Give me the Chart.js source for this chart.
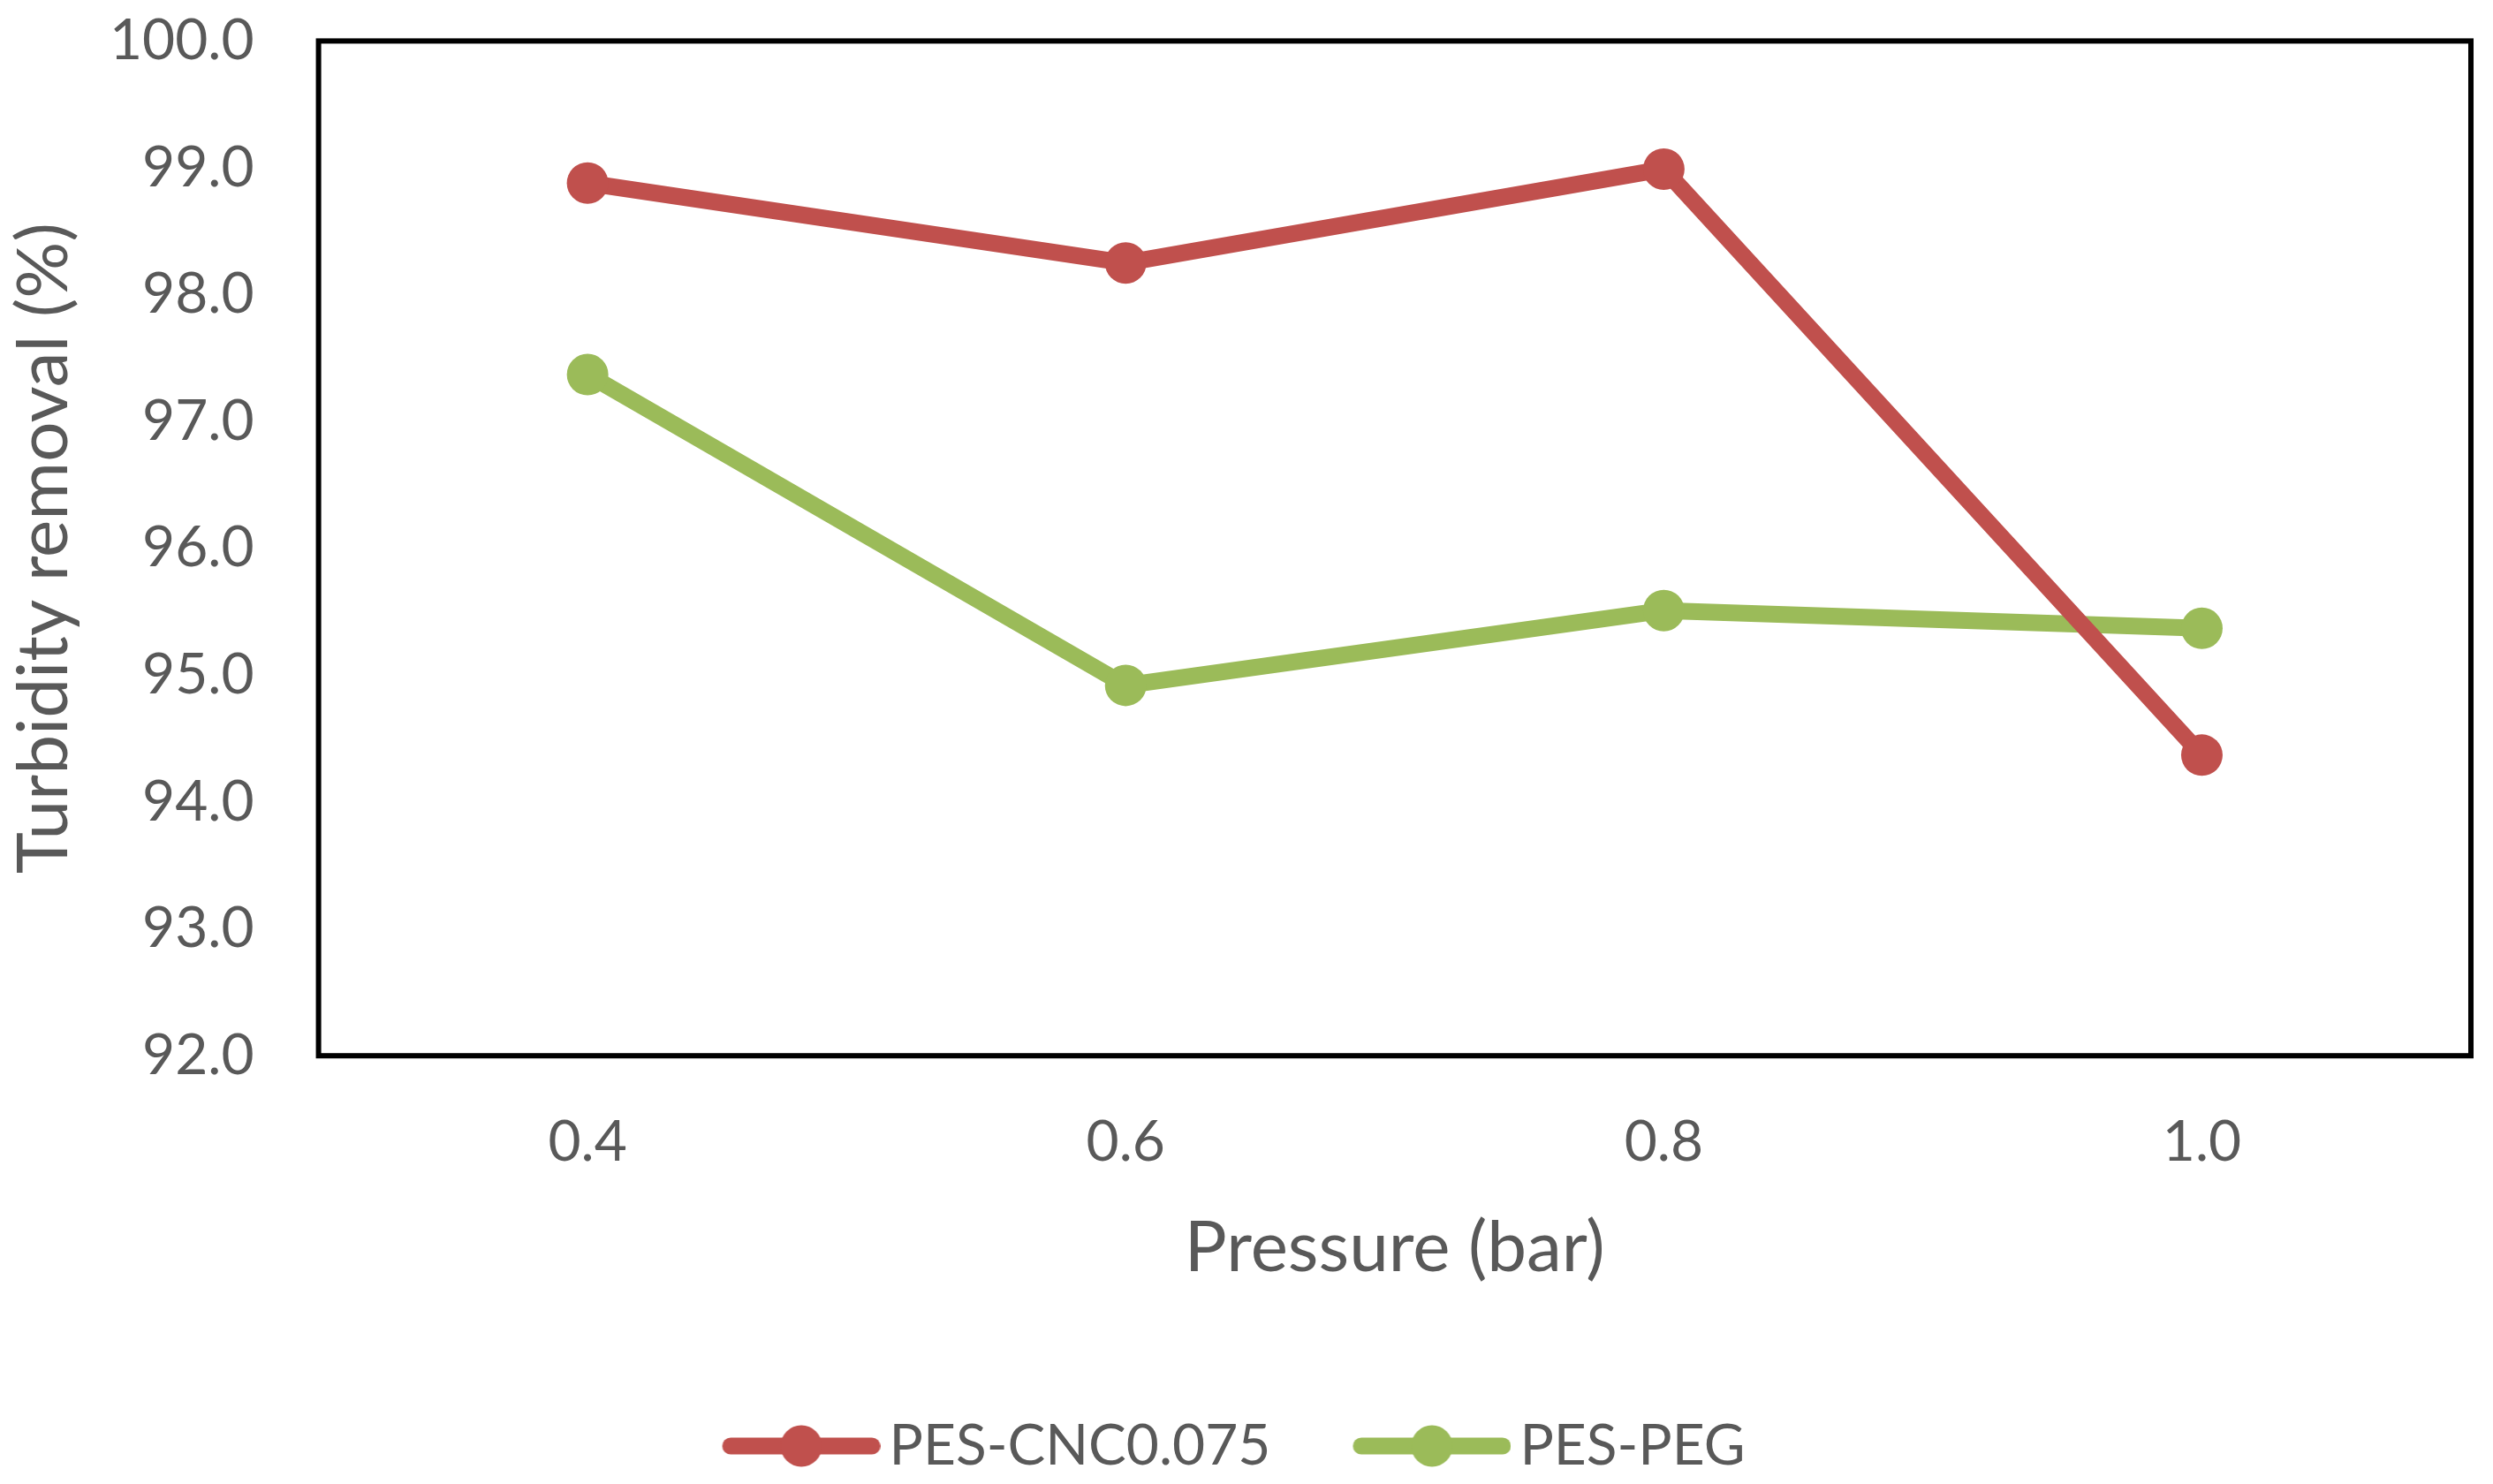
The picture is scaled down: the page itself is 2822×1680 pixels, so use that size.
<!DOCTYPE html>
<html>
<head>
<meta charset="utf-8">
<script src="https://cdn.jsdelivr.net/npm/chart.js@4/dist/chart.umd.min.js"></script>
<style>
  html, body { margin: 0; padding: 0; background: #ffffff; }
  #wrap { width: 2822px; height: 1680px; }
</style>
</head>
<body>
<div id="wrap"><canvas id="c" width="2822" height="1680"></canvas></div>
<script>
const categories = ['0.4', '0.6', '0.8', '1.0'];
const seriesNames = ['PES-CNC0.075', 'PES-PEG'];
const cncValues = [98.88, 98.25, 98.99, 94.37];
const pegValues = [97.37, 94.92, 95.51, 95.37];
const yMin = 92;
const yMax = 100;
const yStep = 1;

const RED = '#C0504D';
const GREEN = '#9BBB59';
const TEXT = '#595959';
const FONT = 'Lato, "Open Sans", sans-serif';

function legendSymbol(color) {
  const cv = document.createElement('canvas');
  cv.width = 195; cv.height = 50;
  const g = cv.getContext('2d');
  g.strokeStyle = color;
  g.lineWidth = 19;
  g.lineCap = 'round';
  g.beginPath();
  g.moveTo(25.5, 25); g.lineTo(185.5, 25);
  g.stroke();
  g.fillStyle = color;
  g.beginPath();
  g.arc(105.5, 25, 23.5, 0, Math.PI * 2);
  g.fill();
  return cv;
}
const symbols = [legendSymbol(RED), legendSymbol(GREEN)];

const boxPlugin = {
  id: 'plotBox',
  afterDraw(chart) {
    const a = chart.chartArea;
    const ctx = chart.ctx;
    ctx.save();
    ctx.strokeStyle = '#000000';
    ctx.lineWidth = 6;
    ctx.strokeRect(a.left, a.top, a.right - a.left, a.bottom - a.top);
    ctx.restore();
  }
};

new Chart(document.getElementById('c'), {
  type: 'line',
  data: {
    labels: categories,
    datasets: [
      {
        label: seriesNames[0],
        data: cncValues,
        borderColor: RED,
        backgroundColor: RED,
        borderWidth: 19,
        pointRadius: 23.5,
        pointHoverRadius: 23.5,
        pointBorderWidth: 0,
        pointBackgroundColor: RED,
        tension: 0,
        borderCapStyle: 'round',
        borderJoinStyle: 'round'
      },
      {
        label: seriesNames[1],
        data: pegValues,
        borderColor: GREEN,
        backgroundColor: GREEN,
        borderWidth: 19,
        pointRadius: 23.5,
        pointHoverRadius: 23.5,
        pointBorderWidth: 0,
        pointBackgroundColor: GREEN,
        tension: 0,
        borderCapStyle: 'round',
        borderJoinStyle: 'round'
      }
    ]
  },
  options: {
    responsive: false,
    animation: false,
    devicePixelRatio: 1,
    layout: { padding: { left: 2, right: 25, top: 0, bottom: 1 } },
    scales: {
      x: {
        type: 'category',
        offset: true,
        grid: { display: true, drawOnChartArea: false, drawTicks: true, tickLength: 52, color: 'rgba(0,0,0,0)' },
        border: { display: false },
        ticks: { color: TEXT, font: { family: FONT, size: 64 }, padding: 8 },
        title: {
          display: true, text: 'Pressure (bar)', color: TEXT,
          font: { family: FONT, size: 80 }, padding: { top: 25, bottom: 45 }
        }
      },
      y: {
        min: yMin, max: yMax,
        grid: { display: true, drawOnChartArea: false, drawTicks: true, tickLength: 65, color: 'rgba(0,0,0,0)' },
        border: { display: false },
        ticks: {
          stepSize: yStep, color: TEXT, font: { family: FONT, size: 64 }, padding: 8,
          callback: (v) => Number(v).toFixed(1)
        },
        title: {
          display: true, text: 'Turbidity removal (%)', color: TEXT,
          font: { family: FONT, size: 80 }, padding: { top: 0, bottom: 18 }
        }
      }
    },
    plugins: {
      tooltip: { enabled: false },
      legend: {
        position: 'bottom',
        labels: {
          color: TEXT,
          font: { family: FONT, size: 64 },
          usePointStyle: true,
          pointStyleWidth: 151,
          padding: 99,
          generateLabels(chart) {
            const items = Chart.defaults.plugins.legend.labels.generateLabels(chart);
            items.forEach((it, i) => { it.pointStyle = symbols[i]; });
            return items;
          }
        }
      }
    }
  },
  plugins: [boxPlugin]
});
</script>
</body>
</html>
